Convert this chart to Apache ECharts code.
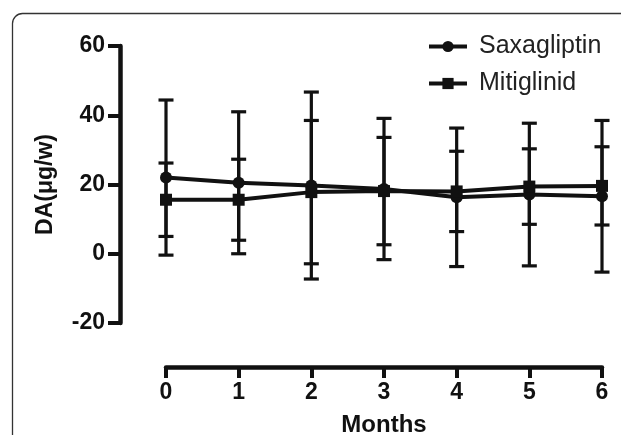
<!DOCTYPE html>
<html>
<head>
<meta charset="utf-8">
<script src="https://cdn.jsdelivr.net/npm/echarts@6/dist/echarts.min.js"></script>
<style>html,body{margin:0;padding:0;background:#fff}#c{width:621px;height:435px}</style>
</head>
<body>
<div id="c"></div>
<script>
// Data
const months = [0, 1, 2, 3, 4, 5, 6];
const xTickLabels = ['0', '1', '2', '3', '4', '5', '6'];
const yTickValues = [-20, 0, 20, 40, 60];
const saxMean = [22.0, 20.5, 19.7, 18.7, 16.3, 17.1, 16.6];
const saxSD   = [22.4, 20.5, 27.0, 20.4, 20.0, 20.6, 21.9];
const mitMean = [15.6, 15.6, 17.8, 18.1, 18.0, 19.4, 19.6];
const mitSD   = [10.6, 11.7, 20.7, 15.5, 11.6, 10.9, 11.3];

const INK = '#111';
const FONT = '"Liberation Sans", Arial, Helvetica, sans-serif';

function pairs(xs, ys) { return xs.map((x, i) => [x, ys[i]]); }
function errData(xs, m, s) { return xs.map((x, i) => [x, m[i] - s[i], m[i] + s[i]]); }

function errRender(params, api) {
  const x = api.value(0);
  const lo = api.coord([x, api.value(1)]);
  const hi = api.coord([x, api.value(2)]);
  const hw = 7.5;
  const st = { stroke: INK, lineWidth: 3.2 };
  return {
    type: 'group',
    children: [
      { type: 'line', shape: { x1: lo[0], y1: lo[1], x2: hi[0], y2: hi[1] }, style: st },
      { type: 'line', shape: { x1: lo[0] - hw, y1: lo[1], x2: lo[0] + hw, y2: lo[1] }, style: st },
      { type: 'line', shape: { x1: hi[0] - hw, y1: hi[1], x2: hi[0] + hw, y2: hi[1] }, style: st }
    ]
  };
}

const chart = echarts.init(document.getElementById('c'), null, { renderer: 'canvas' });
chart.setOption({
  animation: false,
  backgroundColor: '#fff',
  graphic: [{
    type: 'rect', z: -1, silent: true,
    shape: { x: 12.5, y: 13.5, width: 720, height: 520, r: 10 },
    style: { fill: 'none', stroke: '#333', lineWidth: 1.3 }
  }],
  grid: { left: 166, right: 19, top: 46, bottom: 112, containLabel: false, outerBoundsMode: 'none' },
  legend: {
    orient: 'vertical', left: 422, top: 29, itemWidth: 38, itemHeight: 14, itemGap: 12,
    data: ['Saxagliptin', 'Mitiglinid'],
    lineStyle: { width: 4, color: INK },
    textStyle: { fontFamily: FONT, fontSize: 25, color: '#222', padding: [0, 0, 0, 7] }
  },
  xAxis: {
    type: 'value', min: 0, max: 6, interval: 1, position: 'bottom', offset: 44,
    name: 'Months', nameLocation: 'middle', nameGap: 46,
    nameTextStyle: { fontFamily: FONT, fontSize: 24, fontWeight: 'bold', color: INK },
    axisLine: { show: true, onZero: false, lineStyle: { color: INK, width: 4.5 } },
    axisTick: { show: true, length: 11, lineStyle: { color: INK, width: 4 } },
    axisLabel: { margin: 14, fontFamily: FONT, fontSize: 23, fontWeight: 'bold', color: INK,
      formatter: v => xTickLabels[months.indexOf(v)] },
    splitLine: { show: false }
  },
  yAxis: {
    type: 'value', min: yTickValues[0], max: yTickValues[yTickValues.length - 1], interval: 20, offset: 46,
    name: 'DA(μg/w)', nameLocation: 'middle', nameGap: 63, nameRotate: 90,
    nameTextStyle: { fontFamily: FONT, fontSize: 23, fontWeight: 'bold', color: INK },
    axisLine: { show: true, onZero: false, lineStyle: { color: INK, width: 4.5 } },
    axisTick: { show: true, length: 12, lineStyle: { color: INK, width: 4 } },
    axisLabel: { margin: 15, fontFamily: FONT, fontSize: 23, fontWeight: 'bold', color: INK },
    splitLine: { show: false }
  },
  series: [
    { type: 'custom', name: 'errSax', renderItem: errRender, data: errData(months, saxMean, saxSD), z: 1, silent: true },
    { type: 'custom', name: 'errMit', renderItem: errRender, data: errData(months, mitMean, mitSD), z: 1, silent: true },
    {
      type: 'line', name: 'Saxagliptin', data: pairs(months, saxMean), z: 3,
      symbol: 'circle', symbolSize: 12,
      lineStyle: { color: INK, width: 4 }, itemStyle: { color: INK }
    },
    {
      type: 'line', name: 'Mitiglinid', data: pairs(months, mitMean), z: 4,
      symbol: 'rect', symbolSize: 12,
      lineStyle: { color: INK, width: 4 }, itemStyle: { color: INK }
    }
  ]
});
</script>
</body>
</html>
